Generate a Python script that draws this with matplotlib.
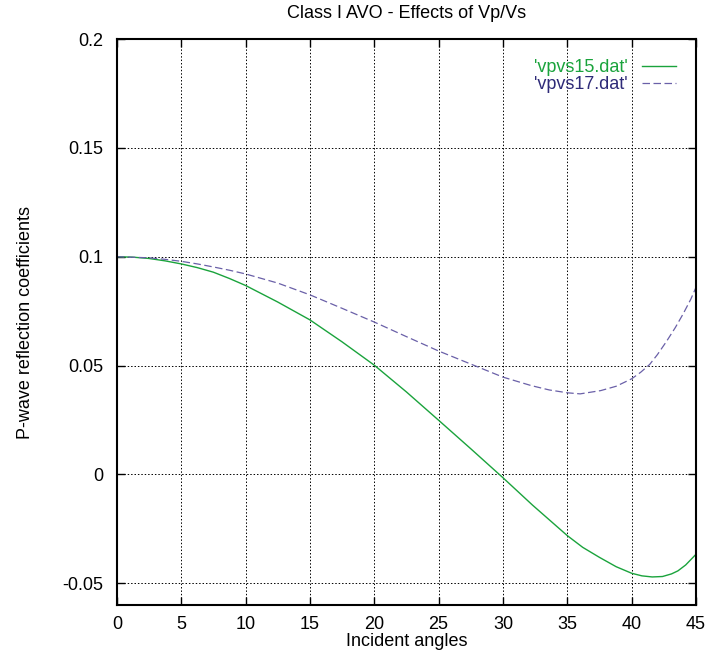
import matplotlib.pyplot as plt

plt.rcParams['font.family'] = ['Liberation Sans', 'DejaVu Sans']

# incident angles (degrees) and reflection coefficients
angles15 = [0, 1.25, 2.5, 3.75, 5, 6.25, 7.5, 8.75, 10, 12.5, 15, 17.5, 20,
            22.5, 25, 27.5, 30, 32.3, 35, 36.2, 37.5, 38.8, 40, 40.8, 41.6,
            42.4, 43.1, 43.6, 44.2, 45]
vpvs15 = [0.1000, 0.0998, 0.0992, 0.0981, 0.0967, 0.0950, 0.0929, 0.0900,
          0.0868, 0.0792, 0.0710, 0.0609, 0.0502, 0.0379, 0.0249, 0.0118,
          -0.0015, -0.0141, -0.0281, -0.0335, -0.0381, -0.0424, -0.0454,
          -0.0466, -0.0471, -0.0469, -0.0457, -0.0443, -0.0416, -0.0367]

angles17 = [0, 2.5, 3.75, 5, 6.25, 7.5, 8.75, 10, 12.5, 15, 17.5, 20, 22.5,
            25, 27.5, 30, 32.2, 33.6, 35, 36, 37.6, 38.8, 40, 40.7, 41.4, 42,
            42.7, 43.4, 44, 44.6, 45]
vpvs17 = [0.1000, 0.0995, 0.0988, 0.0979, 0.0967, 0.0953, 0.0938, 0.0921,
          0.0879, 0.0825, 0.0763, 0.0700, 0.0633, 0.0567, 0.0507, 0.0447,
          0.0408, 0.0388, 0.0375, 0.0370, 0.0385, 0.0405, 0.0439, 0.0469,
          0.0505, 0.0550, 0.0610, 0.0675, 0.0737, 0.0805, 0.0859]

xticks = [0, 5, 10, 15, 20, 25, 30, 35, 40, 45]
yticks = [-0.05, 0, 0.05, 0.1, 0.15, 0.2]
ytick_labels = ['-0.05', '0', '0.05', '0.1', '0.15', '0.2']

fig = plt.figure(figsize=(7.08, 6.56), dpi=100)
ax = fig.add_axes([0.165, 0.0777, 0.818, 0.8628])

ax.plot(angles15, vpvs15, color='#1aa33c', lw=1.0, label="'vpvs15.dat'",
        solid_joinstyle='round')
ax.plot(angles17, vpvs17, color='#6a60a8', lw=0.9, dashes=(6, 2.8),
        label="'vpvs17.dat'")

ax.set_xlim(0, 45)
ax.set_ylim(-0.06, 0.2)
ax.set_xticks(xticks)
ax.set_yticks(yticks)
ax.set_yticklabels(ytick_labels)
ax.tick_params(direction='in', length=6, width=1, labelsize=13,
               top=True, right=True)
ax.tick_params(axis='y', pad=10)
ax.tick_params(axis='x', pad=8)
ax.grid(True, color='black', linestyle=(0, (1.5, 2)), linewidth=0.7)
for s in ax.spines.values():
    s.set_linewidth(1.5)

ax.set_title('Class I AVO - Effects of Vp/Vs', fontsize=13, pad=15)
ax.set_xlabel('Incident angles', fontsize=13, labelpad=0)
ax.set_ylabel('P-wave reflection coefficients', fontsize=13, labelpad=20)

leg = ax.legend(loc='upper right', frameon=False, markerfirst=False,
                fontsize=13, handlelength=1.9, handletextpad=0.8,
                borderaxespad=0.7, labelspacing=0.0)
leg.get_texts()[0].set_color('#1aa33c')
leg.get_texts()[1].set_color('#2e2a78')

fig.savefig('out.png', dpi=100)
